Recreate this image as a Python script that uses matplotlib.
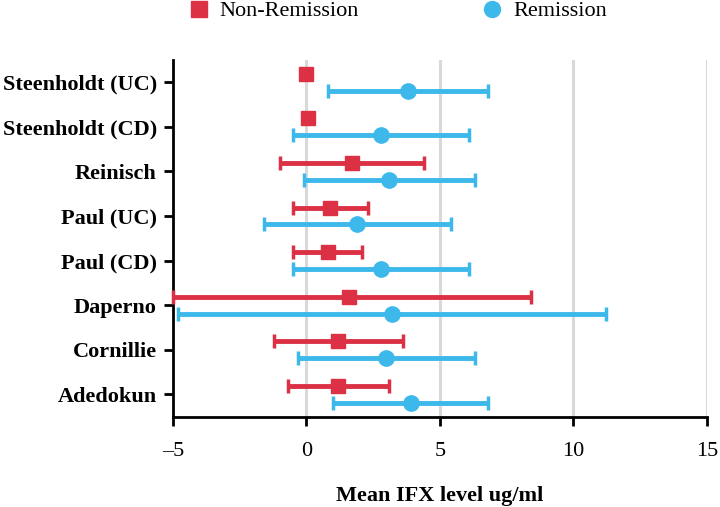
import matplotlib
matplotlib.use("Agg")
import matplotlib.pyplot as plt
from matplotlib.lines import Line2D
import numpy as np

studies = ["Steenholdt (UC)", "Steenholdt (CD)", "Reinisch", "Paul (UC)",
           "Paul (CD)", "Daperno", "Cornillie", "Adedokun"]

nonRemissionMean = [0.0, 0.05, 1.7, 0.9, 0.8, 1.6, 1.2, 1.2]
nonRemissionLow = [0.0, 0.05, -1.0, -0.5, -0.5, -5.0, -1.2, -0.7]
nonRemissionHigh = [0.0, 0.05, 4.4, 2.3, 2.1, 8.4, 3.6, 3.1]

remissionMean = [3.8, 2.8, 3.1, 1.9, 2.8, 3.2, 3.0, 3.9]
remissionLow = [0.8, -0.5, -0.1, -1.6, -0.5, -4.8, -0.3, 1.0]
remissionHigh = [6.8, 6.1, 6.3, 5.4, 6.1, 11.2, 6.3, 6.8]

redColor = "#dc3044"
blueColor = "#3db8ea"

plt.rcParams["font.family"] = ["Liberation Serif", "DejaVu Serif"]

fig = plt.figure(figsize=(7.2, 5.07), dpi=100)
ax = fig.add_axes([0.240, 0.178, 0.742, 0.704])

yPos = np.arange(len(studies))[::-1].astype(float)
offset = 0.19

nrMean = np.array(nonRemissionMean)
nrErr = [nrMean - np.array(nonRemissionLow), np.array(nonRemissionHigh) - nrMean]
rMean = np.array(remissionMean)
rErr = [rMean - np.array(remissionLow), np.array(remissionHigh) - rMean]

for xv in [0, 5, 10, 15]:
    ax.axvline(xv, color="#d9d9db", linewidth=2.2, zorder=0)

ax.errorbar(rMean, yPos - offset, xerr=rErr, fmt="o", color=blueColor, ecolor=blueColor,
            elinewidth=3.5, capsize=5, capthick=2.5, markersize=11, zorder=3, clip_on=False)
ax.errorbar(nrMean, yPos + offset, xerr=nrErr, fmt="s", color=redColor, ecolor=redColor,
            elinewidth=3.5, capsize=5, capthick=2.5, markersize=10.5, zorder=4, clip_on=False)

ax.set_xlim(-5, 15)
ax.set_ylim(-0.5, len(studies) - 0.5)
ax.set_xticks([-5, 0, 5, 10, 15])
ax.set_xticklabels(["\u20135", "0", "5", "10", "15"])
ax.set_yticks(yPos)
ax.set_yticklabels(studies, fontweight="bold")
ax.tick_params(axis="both", labelsize=16, width=2, length=6.5, direction="out", color="black")
ax.tick_params(axis="x", pad=12)
ax.tick_params(axis="y", pad=5)

for side in ["top", "right"]:
    ax.spines[side].set_visible(False)
for side in ["left", "bottom"]:
    ax.spines[side].set_linewidth(2)

ax.set_xlabel("Mean IFX level ug/ml", fontsize=16, fontweight="bold", labelpad=18)

handles = [
    Line2D([], [], marker="s", color=redColor, linestyle="none", markersize=11),
    Line2D([], [], marker="o", color=blueColor, linestyle="none", markersize=11.5),
]
fig.legend(handles, ["Non-Remission", "Remission"], loc="upper center",
           bbox_to_anchor=(0.552, 1.038), ncol=2, frameon=False, fontsize=16,
           columnspacing=5.5, handlelength=1.0, handletextpad=0.45)

fig.savefig("out.png", dpi=100)
